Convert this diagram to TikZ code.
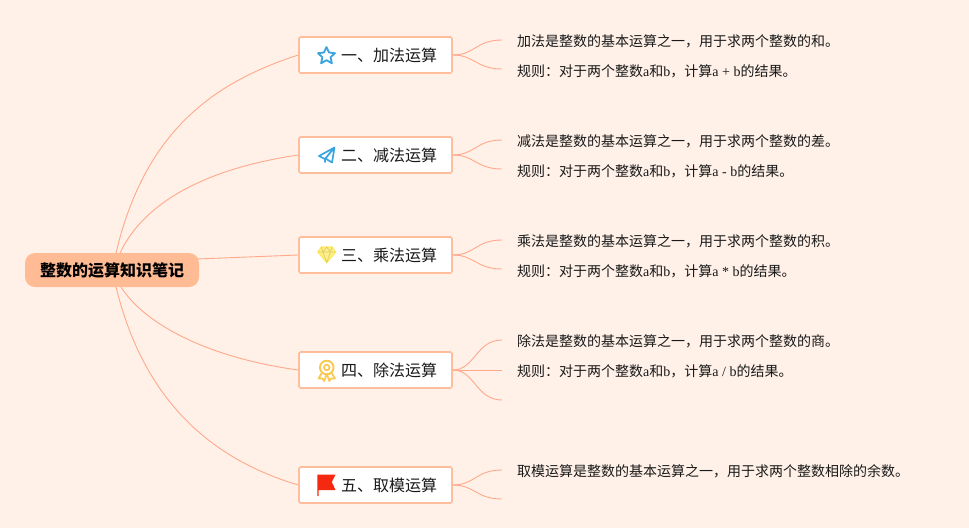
\documentclass[tikz,border=0pt]{standalone}
\usepackage{fontspec}
\setmainfont{Liberation Serif}
\newfontfamily\cjk{Noto Sans CJK SC}
\newcommand{\lat}[1]{{\rmfamily #1}}
\definecolor{bgc}{HTML}{FFF1E8}
\definecolor{edgec}{HTML}{FFBE9B}
\definecolor{linec}{HTML}{FFA88A}
\definecolor{rootc}{HTML}{FFBB94}
\definecolor{bluec}{HTML}{3BA4E0}
\definecolor{yelc}{HTML}{FFEA5C}
\definecolor{medc}{HTML}{F9C84E}
\definecolor{redc}{HTML}{F5290F}
\tikzset{
  rootbox/.style={fill=rootc,rounded corners=10pt,minimum width=174pt,minimum height=34pt,inner sep=0pt,font=\cjk\bfseries\fontsize{16pt}{18pt}\selectfont,text=black},
  topicbox/.style={draw=edgec,line width=1.6pt,fill=white,rounded corners=1.5pt,minimum width=153pt,minimum height=36pt,inner sep=0pt,font=\cjk\fontsize{16pt}{18pt}\selectfont,text=black!90},
  notetext/.style={anchor=west,inner sep=0pt,font=\cjk\fontsize{14pt}{16pt}\selectfont,text=black!90},
  conn/.style={draw=linec,line width=0.9pt},
  icon/.style={line width=1.7pt,line join=round,line cap=round}
}
\begin{document}
\begin{tikzpicture}[x=1pt,y=-1pt]
\path[use as bounding box,fill=bgc] (0,0) rectangle (969,528);

\node[rootbox] (root) at (112,270) {整数的运算知识笔记};
\coordinate (rtop1) at (116,253);
\coordinate (rtop2) at (120,253);
\coordinate (rbot1) at (116,287);
\coordinate (rbot2) at (121,287);
\coordinate (rright) at (197,259);

\node[topicbox] (t1) at (375.5,55) {\hspace*{27pt}一、加法运算};
\node[topicbox] (t2) at (375.5,155) {\hspace*{27pt}二、减法运算};
\node[topicbox] (t3) at (375.5,255) {\hspace*{27pt}三、乘法运算};
\node[topicbox] (t4) at (375.5,370) {\hspace*{27pt}四、除法运算};
\node[topicbox] (t5) at (375.5,485) {\hspace*{27pt}五、取模运算};

\draw[conn] (rtop1) .. controls (145,130) and (215,82) .. (t1.west);
\draw[conn] (rtop2) .. controls (145,200) and (210,168) .. (t2.west);
\draw[conn] (rright) -- (t3.west);
\draw[conn] (rbot2) .. controls (145,325) and (210,358) .. (t4.west);
\draw[conn] (rbot1) .. controls (145,405) and (215,460) .. (t5.west);

\node[notetext] (n11) at (517,41) {加法是整数的基本运算之一，用于求两个整数的和。};
\node[notetext] (n12) at (517,71) {规则：对于两个整数\lat{a}和\lat{b}，计算\lat{a + b}的结果。};
\node[notetext] (n21) at (517,141) {减法是整数的基本运算之一，用于求两个整数的差。};
\node[notetext] (n22) at (517,171) {规则：对于两个整数\lat{a}和\lat{b}，计算\lat{a - b}的结果。};
\node[notetext] (n31) at (517,241) {乘法是整数的基本运算之一，用于求两个整数的积。};
\node[notetext] (n32) at (517,271) {规则：对于两个整数\lat{a}和\lat{b}，计算\lat{a * b}的结果。};
\node[notetext] (n41) at (517,341) {除法是整数的基本运算之一，用于求两个整数的商。};
\node[notetext] (n42) at (517,371) {规则：对于两个整数\lat{a}和\lat{b}，计算\lat{a / b}的结果。};
\node[notetext] (n51) at (517,471) {取模运算是整数的基本运算之一，用于求两个整数相除的余数。};

\coordinate (e11) at (502,40);
\coordinate (e12) at (502,69);
\coordinate (e21) at (502,140);
\coordinate (e22) at (502,169);
\coordinate (e31) at (502,240);
\coordinate (e32) at (502,269);
\coordinate (e41) at (502,340);
\coordinate (e42) at (502,370);
\coordinate (e43) at (502,400);
\coordinate (e51) at (502,470);
\coordinate (e52) at (502,499);

\foreach \t/\e in {t1/e11,t1/e12,t2/e21,t2/e22,t3/e31,t3/e32,t4/e41,t4/e43,t5/e51,t5/e52}{
  \draw[conn] (\t.east) .. controls ([xshift=22pt]\t.east) and ([xshift=-26pt]\e) .. (\e);
}
\draw[conn] (t4.east) -- (e42);

% star
\draw[icon,draw=bluec,line width=1.8pt]
  (326.5,47) -- (329,52.5) -- (335,53.2) -- (330.6,57.2) -- (331.9,63.3) -- (326.5,60.2)
  -- (321.1,63.3) -- (322.4,57.2) -- (318,53.2) -- (324,52.5) -- cycle;
% paper plane
\draw[icon,draw=bluec,line width=1.7pt]
  (334.5,147.5) -- (319,156) -- (325,159) -- cycle
  (334.5,147.5) -- (332,162.5) -- (325.5,158.5)
  (325,159) -- (325,162);
% diamond
\draw[icon,draw=yelc,fill=yelc!70,line width=1.4pt]
  (321.5,247) -- (332,247) -- (335.5,252) -- (326.75,262.5) -- (318,252) -- cycle;
\draw[draw=yelc!85!black!90!white,line width=0.7pt]
  (318,252) -- (335.5,252) (323,252) -- (326.75,262.5) -- (330.5,252)
  (321.5,247) -- (323,252) -- (326.75,247) -- (330.5,252) -- (332,247);
% medal
\draw[icon,draw=medc,line width=1.9pt] (326.75,367.5) circle[radius=6.8];
\draw[draw=medc,line width=1.7pt] (326.75,367.5) circle[radius=2.8];
\draw[icon,draw=medc,line width=1.7pt]
  (321.5,373.5) -- (318.5,378.5) -- (322.5,378.5) -- (324.2,381) -- (326.2,375.2)
  (332,373.5) -- (335,378.5) -- (331,378.5) -- (329.3,381) -- (327.3,375.2);
% flag
\fill[redc] (317.3,474.5) -- (335.5,474.5) -- (331.8,482) -- (335.5,490) -- (318.6,490) -- (318.6,496) -- (317.3,496) -- cycle;
\end{tikzpicture}
\end{document}
